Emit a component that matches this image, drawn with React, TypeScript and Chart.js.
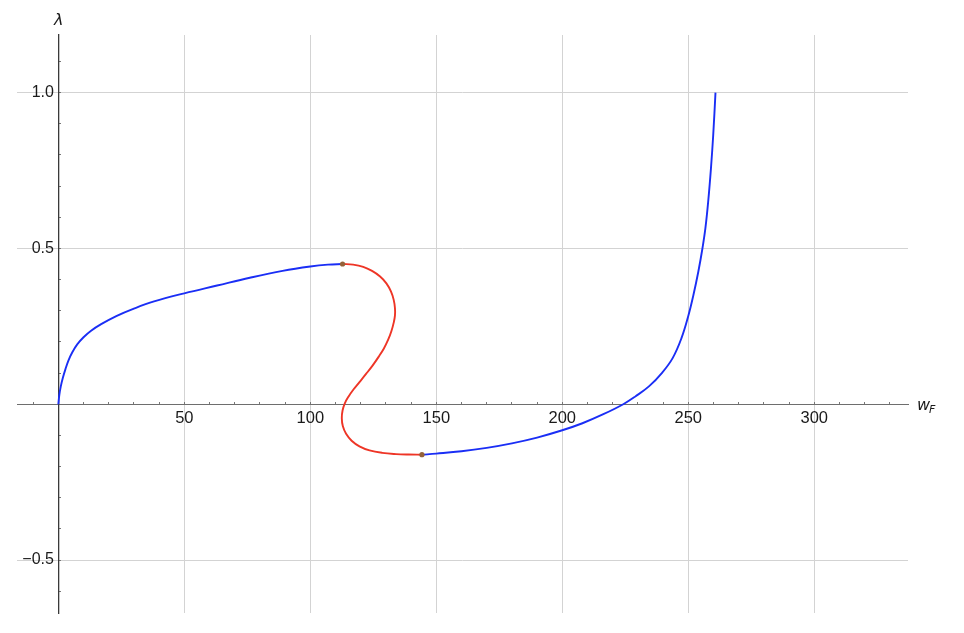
import React, { useEffect, useRef } from 'react';
import { Chart, registerables } from 'chart.js';

Chart.register(...registerables);

// Stable lower branch (blue)
const lowerBranchX = [0, 0.4, 1.0, 1.8, 2.8, 4.0, 5.5, 7.5, 10, 13, 17, 23, 30, 38, 50, 63, 76, 89, 100, 107, 112.8];
const lowerBranchY = [0, 0.03, 0.058, 0.085, 0.112, 0.14, 0.166, 0.192, 0.215, 0.236, 0.257, 0.283, 0.307, 0.33, 0.356, 0.381, 0.406, 0.428, 0.442, 0.448, 0.45];

// Unstable middle branch (red)
const middleBranchX = [112.8, 117, 121, 124.5, 127.7, 130.2, 132, 133.1, 133.6, 133.6, 133.1, 132.2, 130.9, 129.2, 127.1, 124.7, 122.2, 119.6, 117.2, 115.2, 113.7, 112.8, 112.5, 112.9, 114.2, 116.4, 119.5, 123.5, 128.5, 134, 139, 144.3];
const middleBranchY = [0.45, 0.448, 0.441, 0.428, 0.41, 0.388, 0.362, 0.335, 0.308, 0.285, 0.262, 0.235, 0.207, 0.179, 0.152, 0.124, 0.098, 0.072, 0.048, 0.025, 0.003, -0.02, -0.045, -0.07, -0.095, -0.117, -0.135, -0.148, -0.156, -0.16, -0.1615, -0.162];

// Stable upper branch (blue)
const upperBranchX = [144.3, 150, 160, 170, 180, 190, 200, 208, 216.3, 224.2, 229, 234.5, 239.5, 243.8, 247.3, 250, 252, 254, 255.6, 256.8, 257.9, 259, 259.9, 260.8];
const upperBranchY = [-0.162, -0.1585, -0.151, -0.14, -0.1255, -0.107, -0.0835, -0.061, -0.032, 0, 0.025, 0.058, 0.1, 0.148, 0.212, 0.283, 0.349, 0.426, 0.499, 0.565, 0.65, 0.757, 0.864, 1.0];

// Fold (turning) points
const foldX = [112.8, 144.3];
const foldY = [0.45, -0.162];

const xMajorTicks = [50, 100, 150, 200, 250, 300];
const yMajorTicks = [-0.5, 0.5, 1.0];
const xRange = [-16.4, 337.2];
const yRange = [-0.67, 1.185];
const xAxisName = 'w';
const xAxisSub = 'F';
const yAxisName = 'λ';

const FONT = '"Liberation Sans", Arial, Helvetica, sans-serif';
const SYM_FONT = '"DejaVu Sans", "Liberation Sans", sans-serif';

const toPoints = (xs: number[], ys: number[]) => xs.map((x, i) => ({ x, y: ys[i] }));

const isMajorX = (v: number) => xMajorTicks.some((t) => Math.abs(t - v) < 1e-6);
const isMajorY = (v: number) => yMajorTicks.some((t) => Math.abs(t - v) < 1e-6);

const axisNamesPlugin = {
  id: 'axisNames',
  afterDraw(chart: any) {
    const { ctx, chartArea, scales } = chart;
    const x0 = scales.x.getPixelForValue(0);
    const y0 = scales.y.getPixelForValue(0);
    ctx.save();
    ctx.fillStyle = '#1a1a1a';
    ctx.textBaseline = 'alphabetic';
    ctx.font = `italic 16px ${SYM_FONT}`;
    ctx.textAlign = 'center';
    ctx.fillText(yAxisName, x0 + 0.5, chartArea.top - 10);
    ctx.textAlign = 'left';
    ctx.font = `italic 16px ${SYM_FONT}`;
    const wx = chartArea.right + 9;
    ctx.fillText(xAxisName, wx, y0 + 6);
    const ww = ctx.measureText(xAxisName).width;
    ctx.font = `italic 11px ${SYM_FONT}`;
    ctx.fillText(xAxisSub, wx + ww - 1, y0 + 9);
    ctx.restore();
  },
};

const lineStyle = (color: string) => ({
  showLine: true,
  borderColor: color,
  borderWidth: 1.9,
  pointRadius: 0,
  tension: 0.4,
  cubicInterpolationMode: 'default',
  fill: false,
});

export default function App() {
  const canvasRef = useRef<HTMLCanvasElement | null>(null);

  useEffect(() => {
    if (!canvasRef.current) return;
    const chart = new Chart(canvasRef.current, {
      type: 'scatter',
      data: {
        datasets: [
          {
            data: toPoints(foldX, foldY),
            showLine: false,
            pointRadius: 2.6,
            pointBackgroundColor: '#946239',
            pointBorderWidth: 0,
          },
          { data: toPoints(lowerBranchX, lowerBranchY), ...lineStyle('#1a2ef5') },
          { data: toPoints(middleBranchX, middleBranchY), ...lineStyle('#ee3526') },
          { data: toPoints(upperBranchX, upperBranchY), ...lineStyle('#1a2ef5') },
        ],
      } as any,
      options: {
        animation: false,
        responsive: true,
        maintainAspectRatio: false,
        events: [],
        elements: { line: { tension: 0.4 } },
        layout: { padding: { left: 17, right: 56, top: 35, bottom: 20 } },
        plugins: {
          legend: { display: false },
          tooltip: { enabled: false },
        },
        scales: {
          x: {
            type: 'linear',
            position: { y: 0 } as any,
            min: xRange[0],
            max: xRange[1],
            ticks: {
              stepSize: 10,
              includeBounds: false,
              autoSkip: false,
              maxRotation: 0,
              padding: 7,
              color: '#1a1a1a',
              font: { family: FONT, size: 16.5 },
              callback: (v: any) => (isMajorX(Number(v)) ? String(Math.round(Number(v))) : ''),
            },
            grid: {
              color: (ctx: any) => (ctx.tick && isMajorX(ctx.tick.value) ? '#d3d3d3' : 'rgba(0,0,0,0)'),
              lineWidth: 1,
              drawTicks: true,
              tickLength: -3,
              tickColor: '#777',
              tickWidth: 1,
            },
            border: { display: true, color: '#6e6e6e', width: 1 },
          },
          y: {
            type: 'linear',
            position: { x: 0 } as any,
            min: yRange[0],
            max: yRange[1],
            ticks: {
              stepSize: 0.1,
              includeBounds: false,
              autoSkip: false,
              padding: 4,
              color: '#1a1a1a',
              font: { family: FONT, size: 16 },
              callback: (v: any) => {
                const n = Math.round(Number(v) * 10) / 10;
                return isMajorY(n) ? n.toFixed(1).replace('-', '\u2212') + ' ' : '';
              },
            },
            grid: {
              color: (ctx: any) => (ctx.tick && isMajorY(Math.round(ctx.tick.value * 10) / 10) ? '#d3d3d3' : 'rgba(0,0,0,0)'),
              lineWidth: 1,
              drawTicks: true,
              tickLength: -3,
              tickColor: '#777',
              tickWidth: 1,
            },
            border: { display: true, color: '#3a3a3a', width: 1.3 },
          },
        },
      } as any,
      plugins: [axisNamesPlugin],
    });
    return () => chart.destroy();
  }, []);

  return (
    <div style={{ position: 'fixed', left: 0, top: 0, width: 964, height: 633, background: '#fff' }}>
      <canvas ref={canvasRef} />
    </div>
  );
}
